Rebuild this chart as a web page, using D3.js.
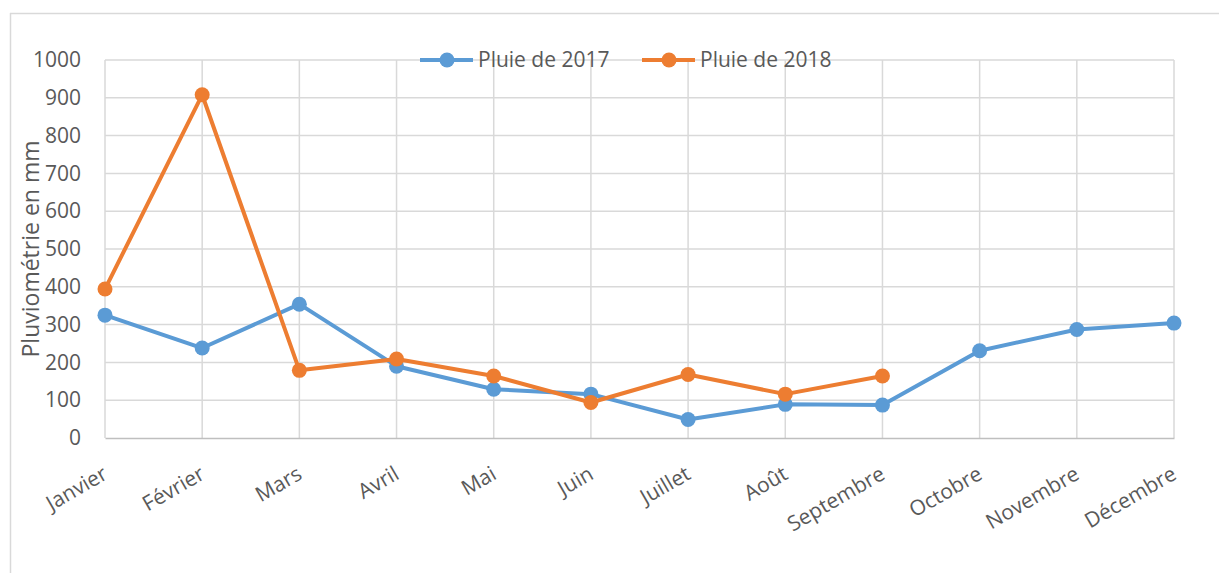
<!DOCTYPE html>
<html>
<head>
<meta charset="utf-8">
<script src="https://cdn.jsdelivr.net/npm/d3@7"></script>
<style>
  body { margin: 0; background: #fff; }
  svg text { font-family: "Open Sans", "Liberation Sans", sans-serif; fill: #595959; }
</style>
</head>
<body>
<svg id="chart"></svg>
<script>
var months = ["Janvier", "Février", "Mars", "Avril", "Mai", "Juin", "Juillet",
  "Août", "Septembre", "Octobre", "Novembre", "Décembre"];
var rain2017 = [325, 238, 354, 190, 129, 116, 49, 89, 87, 231, 287, 304];
var rain2018 = [394, 908, 179, 209, 164, 94, 168, 116, 164, null, null, null];
var yTicks = [0, 100, 200, 300, 400, 500, 600, 700, 800, 900, 1000];
var seriesNames = ["Pluie de 2017", "Pluie de 2018"];
var colors = ["#5B9BD5", "#ED7D31"];

var W = 1219, H = 573;
var margin = { top: 60, right: 45, bottom: 135, left: 105 },
  width = W - margin.left - margin.right,
  height = H - margin.top - margin.bottom;

var svg = d3.select("#chart").attr("width", W).attr("height", H);

// outer frame (top and left edges only are visible)
svg.append("line").attr("x1", 10).attr("x2", W).attr("y1", 13.5).attr("y2", 13.5)
  .attr("stroke", "#d9d9d9").attr("stroke-width", 1.5);
svg.append("line").attr("x1", 10.5).attr("x2", 10.5).attr("y1", 13).attr("y2", H)
  .attr("stroke", "#d9d9d9").attr("stroke-width", 1.5);

var g = svg.append("g").attr("transform", "translate(" + margin.left + "," + margin.top + ")");

var x = d3.scalePoint().domain(months).range([0, width]).padding(0);
var y = d3.scaleLinear().domain([0, 1000]).range([height, 0]);

// horizontal grid
g.append("g")
  .selectAll("line").data(yTicks.slice(1)).join("line")
  .attr("x1", 0).attr("x2", width)
  .attr("y1", function (d) { return y(d); }).attr("y2", function (d) { return y(d); })
  .attr("stroke", "#d9d9d9").attr("stroke-width", 1.5);

// vertical grid
g.append("g")
  .selectAll("line").data(months).join("line")
  .attr("x1", function (d) { return x(d); }).attr("x2", function (d) { return x(d); })
  .attr("y1", 0).attr("y2", height)
  .attr("stroke", "#d9d9d9").attr("stroke-width", 1.5);

// y axis labels
var yAxis = g.append("g")
  .call(d3.axisLeft(y).tickValues(yTicks).tickFormat(d3.format("d")).tickSize(0).tickPadding(24));
yAxis.select(".domain").remove();
yAxis.selectAll("text").style("font-size", "21px").attr("fill", "#595959");

// x axis
var xAxis = g.append("g")
  .attr("transform", "translate(0," + height + ")")
  .call(d3.axisBottom(x).tickSize(0).tickFormat(""));
xAxis.select(".domain").attr("stroke", "#bfbfbf").attr("stroke-width", 1.5);

g.append("g")
  .selectAll("text").data(months).join("text")
  .attr("transform", function (d) {
    return "translate(" + (x(d) + 4) + "," + (height + 40) + ") rotate(-30)";
  })
  .attr("text-anchor", "end")
  .style("font-size", "21px")
  .text(function (d) { return d; });

// y title
svg.append("text")
  .attr("transform", "translate(39," + (margin.top + height / 2) + ") rotate(-90)")
  .attr("text-anchor", "middle")
  .style("font-size", "23px")
  .text("Pluviométrie en mm");

// lines and markers
var series = [rain2017, rain2018];
var line = d3.line()
  .defined(function (d) { return d != null; })
  .x(function (d, i) { return x(months[i]); })
  .y(function (d) { return y(d); });

series.forEach(function (vals, s) {
  g.append("path")
    .datum(vals)
    .attr("fill", "none")
    .attr("stroke", colors[s])
    .attr("stroke-width", 4)
    .attr("stroke-linejoin", "round")
    .attr("d", line);
  g.append("g")
    .selectAll("circle")
    .data(vals.map(function (v, i) { return { v: v, m: months[i] }; })
      .filter(function (d) { return d.v != null; }))
    .join("circle")
    .attr("cx", function (d) { return x(d.m); })
    .attr("cy", function (d) { return y(d.v); })
    .attr("r", 7.5)
    .attr("fill", colors[s]);
});

// legend
var legendX = [420, 642];
var legend = svg.append("g");
seriesNames.forEach(function (name, s) {
  var lg = legend.append("g").attr("transform", "translate(" + legendX[s] + ",60)");
  lg.append("line").attr("x1", 0).attr("x2", 53).attr("y1", 0).attr("y2", 0)
    .attr("stroke", colors[s]).attr("stroke-width", 4);
  lg.append("circle").attr("cx", 27).attr("cy", 0).attr("r", 7.5).attr("fill", colors[s]);
  lg.append("text").attr("x", 58).attr("dy", "0.35em")
    .style("font-size", "21px").text(name);
});
</script>
</body>
</html>
